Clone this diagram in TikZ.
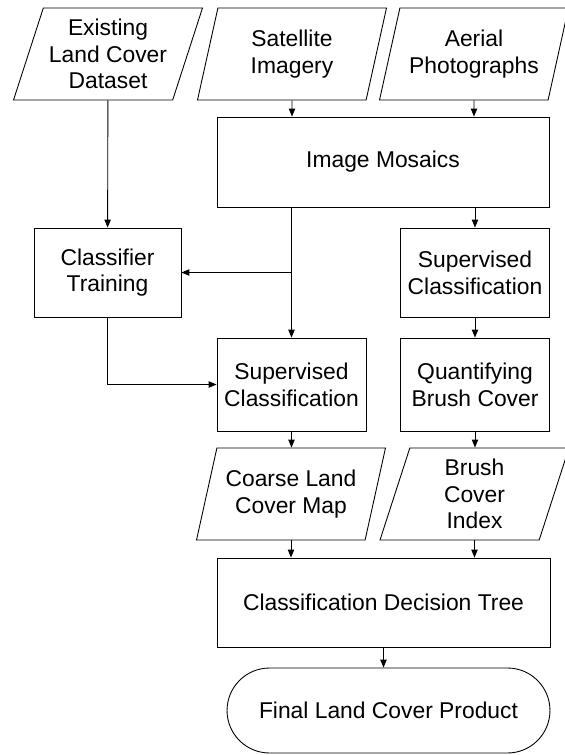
\documentclass[tikz,border=0pt]{standalone}
\usepackage{fontspec}
\setmainfont{Liberation Sans}
\usetikzlibrary{shapes.geometric}
\usetikzlibrary{arrows.meta}

\begin{document}
\begin{tikzpicture}[x=0.02cm, y=0.02cm, line width=0.5pt, >={Triangle[length=4.5pt,width=3.6pt]},
  box/.style={rectangle, draw, align=center, inner sep=0pt, font=\fontsize{13}{15.2}\selectfont},
  data/.style={trapezium, trapezium left angle=67, trapezium right angle=113, trapezium stretches body,
    draw, align=center, inner sep=0pt, minimum height=1.84cm, minimum width=3.78cm, font=\fontsize{13}{15.2}\selectfont}]
\useasboundingbox (0,0) rectangle (565,-755);

\node [data] (lcd) at (108,-54) {Existing\\Land Cover\\Dataset};
\node [data] (sat) at (292,-54) {Satellite\\Imagery};
\node [data] (aer) at (474,-54) {Aerial\\Photographs};
\node [box, minimum width=6.64cm, minimum height=1.8cm] (mos) at (383,-162) {Image Mosaics};
\node [box, minimum width=2.94cm, minimum height=1.78cm] (train) at (107.5,-272.5) {Classifier\\Training};
\node [box, minimum width=2.97cm, minimum height=1.78cm] (supr) at (475,-272.5) {Supervised\\Classification};
\node [box, minimum width=2.98cm, minimum height=1.86cm] (supm) at (291.5,-384.5) {Supervised\\Classification};
\node [box, minimum width=2.97cm, minimum height=1.86cm] (quant) at (475,-384.5) {Quantifying\\Brush Cover};
\node [data] (coarse) at (291,-494) {Coarse Land\\Cover Map};
\node [data] (brush) at (474.5,-494) {Brush\\Cover\\Index};
\node [box, minimum width=6.66cm, minimum height=1.78cm] (tree) at (383.5,-602.5) {Classification Decision Tree};
\node [box, rounded corners=0.85cm, minimum width=6.46cm, minimum height=1.7cm] (final) at (388.5,-710.5) {Final Land Cover Product};

\draw[->] (lcd) -- (train);
\draw[->] (sat) -- (sat |- mos.north);
\draw[->] (aer) -- (aer |- mos.north);
\draw[->] (mos.south -| supm.north) -- (supm.north);
\draw[->] (train.east -| supm.north) -- (train.east);
\draw[->] (mos.south -| supr.north) -- (supr.north);
\draw[->] (train.south) |- (supm.west);
\draw[->] (supr) -- (quant);
\draw[->] (supm) -- (supm |- coarse.north);
\draw[->] (quant) -- (quant |- brush.north);
\draw[->] (coarse.south) -- (coarse.south |- tree.north);
\draw[->] (brush.south) -- (brush.south |- tree.north);
\draw[->] (tree.south) -- (tree.south |- final.north);

\end{tikzpicture}
\end{document}
